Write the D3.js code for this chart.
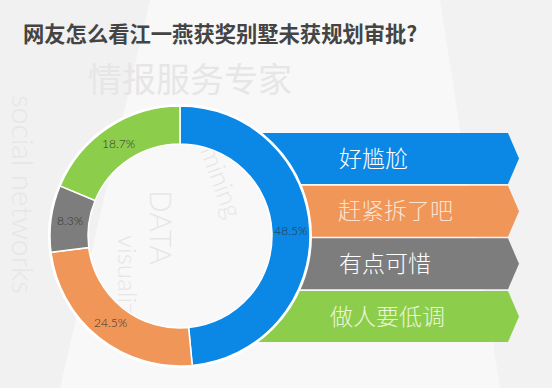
<!DOCTYPE html>
<html>
<head>
<meta charset="utf-8">
<script src="https://cdn.jsdelivr.net/npm/d3@7"></script>
<style>
  body { margin: 0; background: #f7f7f7; }
  svg { display: block; }
</style>
</head>
<body>
<svg id="chart" width="552" height="388"></svg>
<script>
// data
var categories = ["好尴尬", "赶紧拆了吧", "有点可惜", "做人要低调"];
var values = [48.5, 24.5, 8.3, 18.7];
var colors = ["#0b88e6", "#f09658", "#7d7d7d", "#8dcd4c"];
var textColors = ["#ffffff", "#fbe3d2", "#ffffff", "#eaf6d8"];
var title = "网友怎么看江一燕获奖别墅未获规划审批?";

var svg = d3.select("#chart"),
    W = +svg.attr("width"),
    H = +svg.attr("height");

// background + faint watermark
var bg = svg.append("g");
bg.append("rect").attr("width", W).attr("height", H).attr("fill", "#f8f8f8");
bg.append("path").attr("d", "M0,0 L150,0 L60,388 L0,388 Z").attr("fill", "#f1f1f1");
bg.append("path").attr("d", "M440,0 L552,0 L552,388 L500,388 Z").attr("fill", "#f2f2f2");
var wm = bg.append("g").attr("fill", "#e6e6e6").style("font-family", "'Noto Sans CJK SC', sans-serif");
wm.append("text").attr("x", 88).attr("y", 92).style("font-size", "34px").text("情报服务专家");
wm.append("text").attr("transform", "translate(12,95) rotate(90)").style("font-size", "30px").style("font-family", "Lato, sans-serif").style("font-weight", 300).text("social networks");
wm.append("text").attr("transform", "translate(150,190) rotate(90)").style("font-size", "30px").style("font-family", "Lato, sans-serif").style("font-weight", 300).text("DATA");
wm.append("text").attr("transform", "translate(200,150) rotate(70)").style("font-size", "26px").style("font-family", "Lato, sans-serif").style("font-weight", 300).text("mining");
wm.append("text").attr("transform", "translate(118,235) rotate(90)").style("font-size", "26px").style("font-family", "Lato, sans-serif").style("font-weight", 300).text("visualize");

// title
svg.append("text")
    .attr("x", 23).attr("y", 42)
    .attr("fill", "#444444")
    .style("font-family", "'Noto Sans CJK SC', sans-serif")
    .style("font-weight", 700)
    .style("font-size", "21.3px")
    .text(title);

// arrow bars on the right
var cx = 180, cy = 236, rOuter = 130, rInner = 92;
var y = d3.scaleBand().domain(categories).range([133, 342]).paddingInner(0.03);
var xLeft = 200, xEnd = 508, tip = 11;

var clip = svg.append("defs").append("clipPath").attr("id", "outside");
clip.append("path")
    .attr("clip-rule", "evenodd")
    .attr("d", "M0,0H" + W + "V" + H + "H0Z" +
        "M" + (cx + rOuter - 1) + "," + cy +
        "A" + (rOuter - 1) + "," + (rOuter - 1) + " 0 1,0 " + (cx - rOuter + 1) + "," + cy +
        "A" + (rOuter - 1) + "," + (rOuter - 1) + " 0 1,0 " + (cx + rOuter - 1) + "," + cy + "Z");

var bars = svg.append("g").attr("clip-path", "url(#outside)");
bars.selectAll("path").data(categories).enter().append("path")
    .attr("fill", function (d, i) { return colors[i]; })
    .attr("d", function (d) {
        var t = y(d), b = t + y.bandwidth(), m = (t + b) / 2;
        return "M" + xLeft + "," + t + "L" + xEnd + "," + t + "L" + (xEnd + tip) + "," + m +
            "L" + xEnd + "," + b + "L" + xLeft + "," + b + "Z";
    });

var labelX = [339, 338, 339, 330];
svg.append("g").selectAll("text").data(categories).enter().append("text")
    .attr("x", function (d, i) { return labelX[i]; })
    .attr("y", function (d) { return y(d) + y.bandwidth() / 2; })
    .attr("dy", "0.36em")
    .attr("fill", function (d, i) { return textColors[i]; })
    .style("font-family", "'Noto Sans CJK SC', sans-serif")
    .style("font-weight", 300)
    .style("font-size", "23px")
    .text(function (d) { return d; });

// donut
var pie = d3.pie().sort(null).value(function (d) { return d; });
var arc = d3.arc().innerRadius(rInner).outerRadius(rOuter);
var labelArc = d3.arc().innerRadius(111).outerRadius(111);
var donut = svg.append("g").attr("transform", "translate(" + cx + "," + cy + ")");

donut.append("circle").attr("r", rOuter + 1).attr("fill", "none").attr("stroke", "#ffffff").attr("stroke-width", 2);

donut.selectAll("path").data(pie(values)).enter().append("path")
    .attr("d", arc)
    .attr("fill", function (d, i) { return colors[i]; })
    .attr("stroke", "#ffffff")
    .attr("stroke-width", 1.5);

donut.selectAll("text").data(pie(values)).enter().append("text")
    .attr("transform", function (d) { return "translate(" + labelArc.centroid(d) + ")"; })
    .attr("text-anchor", "middle")
    .attr("dy", "0.35em")
    .attr("fill", "#333333")
    .style("font-family", "Lato, sans-serif")
    .style("font-weight", 300)
    .style("font-size", "12px")
    .text(function (d) { return d.value + "%"; });
</script>
</body>
</html>
